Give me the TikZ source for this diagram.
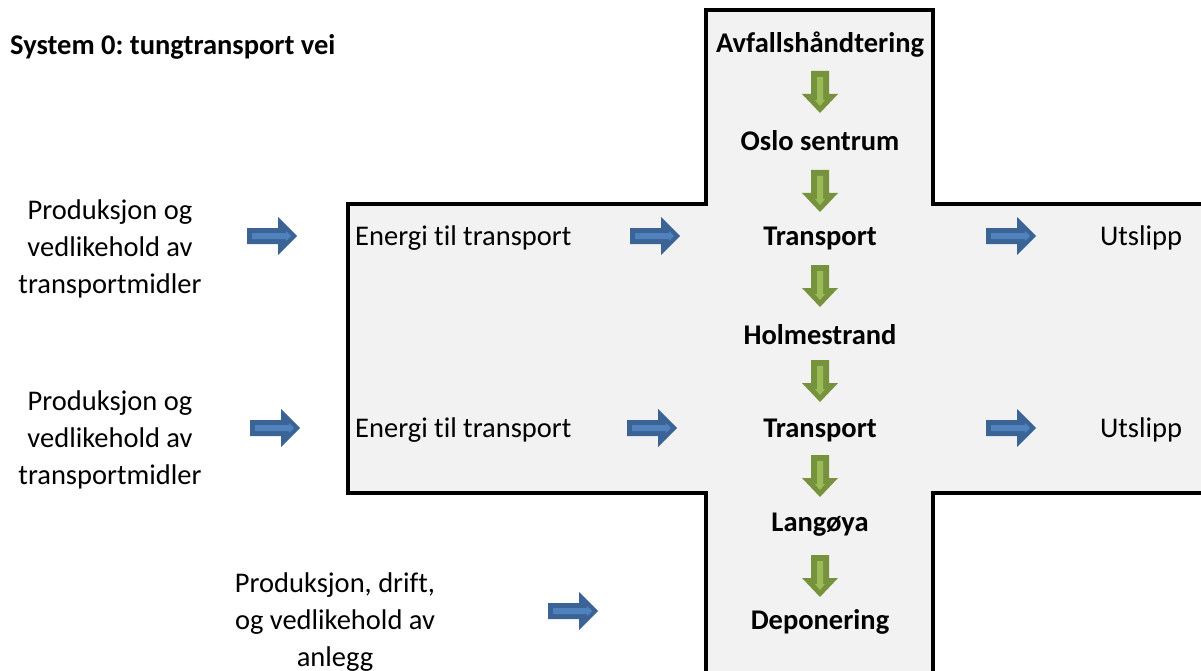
\documentclass[tikz,border=0pt]{standalone}
\usepackage{fontspec}
\setmainfont{Carlito}[Ligatures=NoCommon]
\frenchspacing
\definecolor{crossfill}{HTML}{F2F2F2}
\definecolor{blueD}{HTML}{3C6396}
\definecolor{blueL}{HTML}{4F81BD}
\definecolor{greenD}{HTML}{76923C}
\definecolor{greenL}{HTML}{9BBB59}
\tikzset{
  lbl/.style={font=\fontsize{28.5}{37}\selectfont, inner sep=0pt, align=center},
  blbl/.style={lbl, font=\fontsize{28.5}{37}\selectfont\bfseries},
  barrow/.pic={
    \fill[blueD] (-25,-8) -- (6,-8) -- (6,-19) -- (25,0) -- (6,19) -- (6,8) -- (-25,8) -- cycle;
    \fill[blueL] (-20,-3) -- (14,-3) -- (14,-5) -- (19,0) -- (14,5) -- (14,3) -- (-20,3) -- cycle;
  },
  garrow/.pic={
    \fill[greenD] (-9,-21) -- (9,-21) -- (9,2) -- (18,2) -- (0,21) -- (-18,2) -- (-9,2) -- cycle;
    \fill[greenL] (-3,-15) -- (3,-15) -- (3,8) -- (5,8) -- (0,14) -- (-5,8) -- (-3,8) -- cycle;
  }
}
\begin{document}
\begin{tikzpicture}[x=1pt,y=-1pt]
\useasboundingbox (0,0) rectangle (1201,671);
\fill[white] (0,0) rectangle (1201,671);
\begin{scope}
\clip (0,0) rectangle (1201,671);
\draw[line width=4pt, fill=crossfill]
  (706,10) -- (933,10) -- (933,204) -- (1210,204) -- (1210,493) -- (933,493)
  -- (933,680) -- (706,680) -- (706,493) -- (348,493) -- (348,204) -- (706,204) -- cycle;
\end{scope}

\node[blbl, anchor=west] (title) at (10,47) {System 0: tungtransport vei};

\node[blbl] (avf) at (820,45) {Avfallshåndtering};
\node[blbl] (oslo) at (820,141) {Oslo sentrum};
\node[blbl] (tr1) at (820,238) {Transport};
\node[blbl] (holm) at (820,335) {Holmestrand};
\node[blbl] (tr2) at (820,430) {Transport};
\node[blbl] (lang) at (820,525) {Langøya};
\node[blbl] (dep) at (820,622) {Deponering};

\node[lbl] (prod1) at (110,249) {Produksjon og\\vedlikehold av\\transportmidler};
\node[lbl] (prod2) at (110,440) {Produksjon og\\vedlikehold av\\transportmidler};
\node[lbl] (prod3) at (335,622) {Produksjon, drift,\\og vedlikehold av\\anlegg};

\node[lbl, anchor=west] (en1) at (355,238) {Energi til transport};
\node[lbl, anchor=west] (en2) at (355,430) {Energi til transport};
\node[lbl] (ut1) at (1141,238) {Utslipp};
\node[lbl] (ut2) at (1141,430) {Utslipp};

\pic at (272,236) {barrow};
\pic at (655,236) {barrow};
\pic at (1011,236) {barrow};
\pic at (275,428) {barrow};
\pic at (652,428) {barrow};
\pic at (1011,428) {barrow};
\pic at (573,611) {barrow};

\pic at (820,92) {garrow};
\pic at (820,191) {garrow};
\pic at (820,286) {garrow};
\pic at (820,381) {garrow};
\pic at (820,476) {garrow};
\pic at (820,576) {garrow};
\end{tikzpicture}
\end{document}
